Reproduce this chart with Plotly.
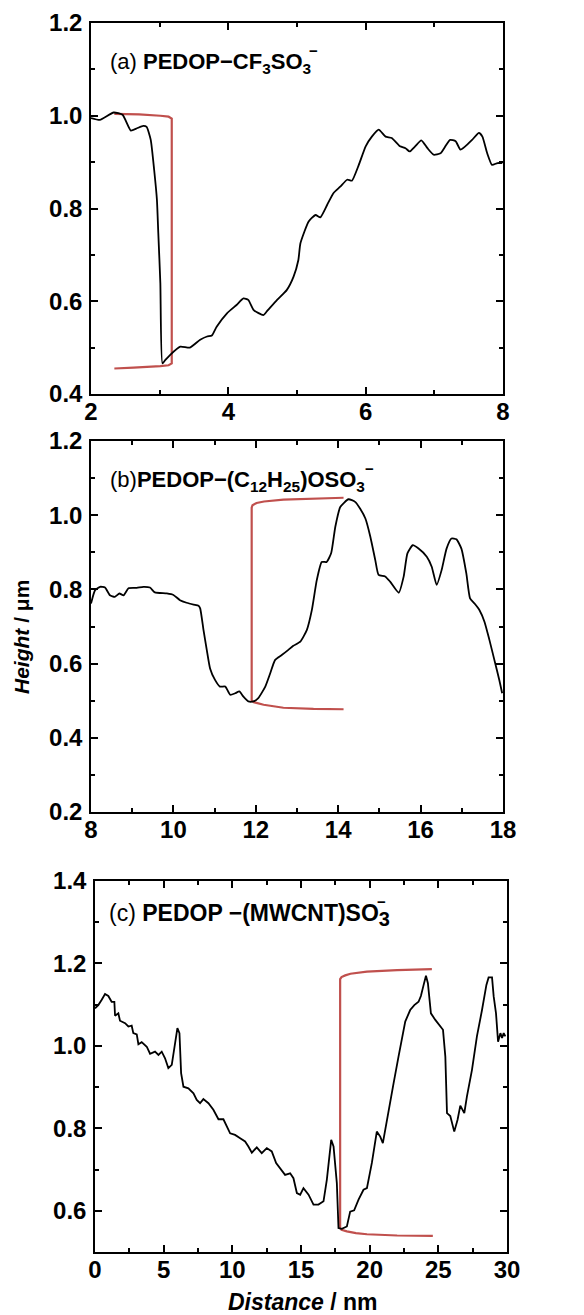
import plotly.graph_objects as go

# ---------------- data ----------------
a_x = [2.0, 2.13, 2.33, 2.46, 2.58, 2.67, 2.76, 2.81, 2.87, 2.92, 2.96, 2.98, 3.01, 3.04, 3.08, 3.15,
       3.30, 3.44, 3.59, 3.69, 3.76, 3.83, 3.98, 4.12, 4.22, 4.29, 4.37, 4.51, 4.56, 4.71, 4.85, 4.95,
       5.02, 5.05, 5.17, 5.27, 5.34, 5.44, 5.53, 5.63, 5.73, 5.80, 5.90, 6.00, 6.09, 6.19, 6.29, 6.38,
       6.50, 6.58, 6.64, 6.72, 6.81, 6.90, 6.99, 7.09, 7.16, 7.23, 7.31, 7.38, 7.45, 7.55, 7.65, 7.70,
       7.77, 7.84, 7.92, 7.99]
a_y = [0.995, 0.991, 1.007, 1.002, 0.968, 0.973, 0.978, 0.976, 0.948, 0.883, 0.819, 0.747, 0.639, 0.466, 0.473, 0.484,
       0.502, 0.500, 0.517, 0.524, 0.526, 0.545, 0.574, 0.592, 0.606, 0.603, 0.581, 0.570, 0.578, 0.603, 0.624, 0.653,
       0.689, 0.725, 0.772, 0.786, 0.781, 0.808, 0.833, 0.847, 0.862, 0.860, 0.894, 0.934, 0.955, 0.970, 0.955, 0.952,
       0.934, 0.930, 0.923, 0.934, 0.947, 0.930, 0.916, 0.919, 0.934, 0.948, 0.945, 0.927, 0.934, 0.948, 0.963, 0.955,
       0.919, 0.894, 0.898, 0.898]

b_x = [8.0, 8.10, 8.22, 8.34, 8.46, 8.58, 8.69, 8.79, 8.91, 9.11, 9.27, 9.43, 9.55, 9.84, 10.00, 10.16,
       10.32, 10.49, 10.61, 10.65, 10.73, 10.81, 10.89, 11.01, 11.13, 11.26, 11.38, 11.50, 11.60, 11.70, 11.82, 11.94,
       12.06, 12.23, 12.35, 12.47, 12.63, 12.79, 12.91, 13.08, 13.24, 13.36, 13.48, 13.60, 13.72, 13.83, 13.93, 14.05,
       14.25, 14.41, 14.53, 14.66, 14.78, 14.90, 14.98, 15.14, 15.26, 15.47, 15.59, 15.68, 15.81, 15.95, 16.15, 16.27,
       16.39, 16.51, 16.63, 16.75, 16.87, 16.99, 17.11, 17.20, 17.31, 17.43, 17.55, 17.67, 17.79, 17.91, 17.98]
b_y = [0.762, 0.798, 0.807, 0.805, 0.784, 0.780, 0.789, 0.784, 0.803, 0.804, 0.807, 0.805, 0.792, 0.789, 0.785, 0.771,
       0.764, 0.759, 0.756, 0.749, 0.691, 0.637, 0.587, 0.556, 0.538, 0.538, 0.516, 0.520, 0.525, 0.511, 0.498, 0.498,
       0.507, 0.538, 0.574, 0.610, 0.623, 0.637, 0.648, 0.659, 0.691, 0.744, 0.825, 0.874, 0.874, 0.898, 0.969, 1.022,
       1.043, 1.036, 1.018, 0.991, 0.942, 0.879, 0.839, 0.835, 0.821, 0.791, 0.835, 0.897, 0.919, 0.910, 0.888, 0.861,
       0.812, 0.852, 0.910, 0.937, 0.935, 0.910, 0.843, 0.776, 0.762, 0.744, 0.713, 0.664, 0.610, 0.556, 0.520]

c_x = [0.0, 0.24, 0.49, 0.73, 0.97, 1.21, 1.41, 1.46, 1.70, 1.82, 2.19, 2.43, 2.67, 2.79, 3.04, 3.16,
       3.40, 3.77, 4.01, 4.37, 4.62, 4.86, 5.10, 5.34, 5.59, 5.76, 6.00, 6.15, 6.27, 6.44, 6.80, 7.17,
       7.41, 7.65, 7.89, 8.26, 8.62, 8.99, 9.35, 9.84, 10.20, 10.57, 10.93, 11.17, 11.42, 11.78, 12.14, 12.51,
       12.87, 13.19, 13.48, 13.84, 14.21, 14.45, 14.70, 14.94, 15.18, 15.55, 15.91, 16.27, 16.64, 16.88, 17.20, 17.37,
       17.61, 17.73, 17.97, 18.34, 18.58, 18.87, 19.19, 19.55, 19.80, 20.16, 20.52, 20.77, 20.96, 21.37, 21.74, 22.10,
       22.59, 22.95, 23.25, 23.56, 23.73, 23.93, 24.10, 24.24, 24.46, 24.78, 25.09, 25.34, 25.51, 25.63, 25.87, 26.16,
       26.40, 26.60, 26.89, 27.08, 27.45, 27.81, 28.18, 28.50, 28.66, 28.91, 29.03, 29.20, 29.35, 29.52, 29.64, 29.76,
       29.88]
c_y = [1.091, 1.099, 1.112, 1.126, 1.121, 1.107, 1.107, 1.073, 1.079, 1.061, 1.055, 1.047, 1.049, 1.031, 1.028, 1.004,
       1.009, 0.998, 0.981, 0.986, 0.978, 0.986, 0.970, 0.946, 0.954, 0.990, 1.043, 1.031, 0.934, 0.901, 0.897, 0.885,
       0.869, 0.861, 0.871, 0.861, 0.845, 0.822, 0.822, 0.788, 0.784, 0.776, 0.768, 0.756, 0.741, 0.754, 0.740, 0.752,
       0.744, 0.716, 0.703, 0.687, 0.691, 0.679, 0.643, 0.639, 0.655, 0.639, 0.615, 0.615, 0.623, 0.675, 0.772, 0.756,
       0.667, 0.558, 0.556, 0.562, 0.598, 0.601, 0.627, 0.651, 0.655, 0.716, 0.792, 0.780, 0.764, 0.845, 0.909, 0.974,
       1.059, 1.087, 1.099, 1.107, 1.121, 1.148, 1.170, 1.152, 1.079, 1.063, 1.051, 1.039, 0.974, 0.837, 0.830, 0.792,
       0.821, 0.855, 0.837, 0.877, 0.942, 1.023, 1.087, 1.148, 1.166, 1.166, 1.120, 1.079, 1.010, 1.031, 1.019, 1.031,
       1.023]

# red step-height brackets
br_a_x = [2.34, 2.70, 3.01, 3.13, 3.176, 3.176, 3.13, 3.01, 2.62, 2.34]
br_a_y = [1.004, 1.003, 1.000, 0.998, 0.994, 0.466, 0.462, 0.460, 0.457, 0.455]
br_b_x = [14.13, 13.20, 12.67, 12.20, 12.02, 11.92, 11.90, 11.90, 11.95, 12.19, 12.67, 13.40, 14.13]
br_b_y = [1.047, 1.045, 1.042, 1.037, 1.033, 1.027, 1.020, 0.500, 0.496, 0.489, 0.481, 0.478, 0.477]
br_c_x = [24.53, 22.00, 19.80, 18.60, 18.22, 17.95, 17.85, 17.85, 17.95, 18.34, 19.00, 19.80, 22.00, 24.60]
br_c_y = [1.186, 1.184, 1.180, 1.175, 1.171, 1.167, 1.162, 0.558, 0.554, 0.550, 0.546, 0.543, 0.540, 0.539]

panel_labels = ["(a) <b>PEDOP\u2212CF<sub>3</sub>SO<sub>3</sub></b>",
                "(b)<b>PEDOP\u2212(C<sub>12</sub>H<sub>25</sub>)OSO<sub>3</sub></b>",
                "(c) <b>PEDOP \u2212(MWCNT)SO<sub><span style='font-size:20px'>3</span></sub></b>"]
charge_sign = "\u2212"

# ---------------- layout helpers ----------------
OFF = 8                      # page body margin in the browser
W, H = 584 - OFF, 1315 - OFF
FONT = "Liberation Sans, Arial, sans-serif"
RED = "rgb(192,80,77)"


def px_x(p):
    return (p - OFF) / W


def px_y(p):
    return 1 - (p - OFF) / H


fig = go.Figure()

panels = [
    (a_x, a_y, br_a_x, br_a_y, "x", "y", "spline"),
    (b_x, b_y, br_b_x, br_b_y, "x2", "y2", "spline"),
    (c_x, c_y, br_c_x, br_c_y, "x3", "y3", "linear"),
]
for dx, dy, bx, by, xa, ya, shp in panels:
    fig.add_trace(go.Scatter(x=bx, y=by, mode="lines", xaxis=xa, yaxis=ya,
                             line=dict(color=RED, width=2.2), hoverinfo="skip", showlegend=False))
    line = dict(color="black", width=1.8, shape=shp)
    if shp == "spline":
        line["smoothing"] = 0.5
    fig.add_trace(go.Scatter(x=dx, y=dy, mode="lines", xaxis=xa, yaxis=ya,
                             line=line, showlegend=False))

tickfont = dict(family=FONT, size=24, color="black", weight="bold")


def axis_common():
    return dict(showline=True, linewidth=1.5, linecolor="black", mirror="allticks",
                ticks="inside", ticklen=7, tickwidth=1.5, tickcolor="black",
                showgrid=False, zeroline=False, tickfont=tickfont, fixedrange=True,
                automargin=False)


# pixel boxes: (left, right, top, bottom)
boxes = [(91, 503, 23, 394), (91, 503, 441, 812), (95, 507, 881, 1252)]
xranges = [[2, 8], [8, 18], [0, 30]]
xdt = [2, 2, 5]
yranges = [[0.4, 1.2], [0.2, 1.2], [0.5, 1.4]]
ytick0 = [0.4, 0.2, 0.6]

for i, (l, r, t, b) in enumerate(boxes):
    sfx = "" if i == 0 else str(i + 1)
    xa = axis_common()
    xa.update(domain=[px_x(l), px_x(r)], range=xranges[i], dtick=xdt[i], tick0=0,
              anchor="y" + sfx, ticklabelstandoff=-5,
              minor=dict(ticks="inside", ticklen=4, tickwidth=1.5, tickcolor="black",
                         dtick=xdt[i] / 2, tick0=0))
    ya = axis_common()
    ya.update(domain=[px_y(b), px_y(t)], range=yranges[i], dtick=0.2, tick0=ytick0[i],
              tickformat=".1f", anchor="x" + sfx, ticklabelstandoff=2,
              minor=dict(ticks="inside", ticklen=4, tickwidth=1.5, tickcolor="black",
                         dtick=0.1, tick0=0.1))
    fig.update_layout(**{"xaxis" + sfx: xa, "yaxis" + sfx: ya})

annotations = []
label_pos = [(108, 63), (108, 481), (107, 915)]
label_size = [22, 22, 23]
for txt, (lx, ly), fs in zip(panel_labels, label_pos, label_size):
    annotations.append(dict(text=txt, x=px_x(lx), y=px_y(ly), xref="paper", yref="paper",
                            xanchor="left", yanchor="middle", showarrow=False,
                            font=dict(family=FONT, size=fs, color="black")))
# charge signs stacked above the subscript 3
sign_pos = [(313, 51), (369, 468), (381, 901)]
for sx, sy in sign_pos:
    annotations.append(dict(text="<b>" + charge_sign + "</b>", x=px_x(sx), y=px_y(sy),
                            xref="paper", yref="paper", xanchor="center", yanchor="middle",
                            showarrow=False, font=dict(family=FONT, size=15, color="black")))

annotations.append(dict(text="<b><i>Height</i> / \u03bcm</b>", x=px_x(21), y=px_y(637),
                        xref="paper", yref="paper", textangle=-90, showarrow=False,
                        xanchor="center", yanchor="middle",
                        font=dict(family=FONT, size=21, color="black")))
annotations.append(dict(text="<b><i>Distance</i> / nm</b>", x=px_x(303), y=px_y(1302),
                        xref="paper", yref="paper", showarrow=False,
                        xanchor="center", yanchor="middle",
                        font=dict(family=FONT, size=23, color="black")))

fig.update_layout(width=W, height=H, margin=dict(l=0, r=0, t=0, b=0, pad=0),
                  paper_bgcolor="white", plot_bgcolor="white", template="none",
                  annotations=annotations, showlegend=False)

fig.write_html("out.html")
